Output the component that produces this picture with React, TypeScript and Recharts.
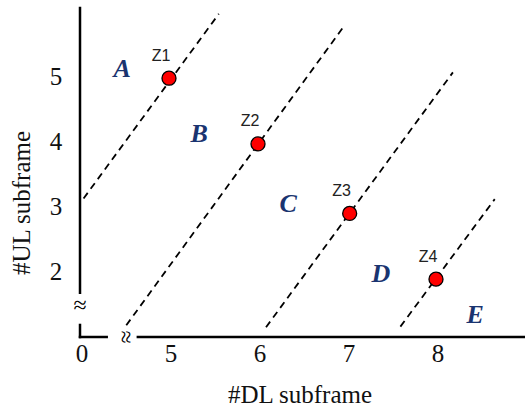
import { ReferenceDot, ReferenceLine, Scatter, ScatterChart, XAxis, YAxis } from 'recharts';

// x = 4 stands in for the broken "0" origin of the DL axis
const xTicks = [4, 5, 6, 7, 8];
const xTickText: Record<number, string> = { 4: '0', 5: '5', 6: '6', 7: '7', 8: '8' };
const yTicks = [2, 3, 4, 5];

const zPoints = [
  { x: 5, y: 4.98, name: 'Z1' },
  { x: 6, y: 3.97, name: 'Z2' },
  { x: 7.03, y: 2.9, name: 'Z3' },
  { x: 8, y: 1.89, name: 'Z4' },
];

const regions = [
  { x: 4.475, y: 5.13, name: 'A' },
  { x: 5.34, y: 4.13, name: 'B' },
  { x: 6.34, y: 3.05, name: 'C' },
  { x: 7.38, y: 1.97, name: 'D' },
  { x: 8.44, y: 1.34, name: 'E' },
];

// dashed boundaries, [start, end]
const boundaries = [
  [{ x: 4.04, y: 3.13 }, { x: 5.56, y: 5.97 }],
  [{ x: 4.52, y: 1.18 }, { x: 6.95, y: 5.75 }],
  [{ x: 6.09, y: 1.15 }, { x: 8.19, y: 5.07 }],
  [{ x: 7.6, y: 1.16 }, { x: 8.66, y: 3.12 }],
];

// axis pieces around the breaks
const axisPieces = [
  [{ x: 4, y: 6.06 }, { x: 4, y: 1.68 }],
  [{ x: 4, y: 1.185 }, { x: 4, y: 1 }],
  [{ x: 4, y: 1 }, { x: 4.3, y: 1 }],
  [{ x: 4.65, y: 1 }, { x: 9, y: 1 }],
];

const serif = '"Liberation Serif", "Times New Roman", serif';
const sans = '"Liberation Sans", Arial, sans-serif';

const XTick = ({ x, payload }: any) => (
  <text x={x + 2} y={362} textAnchor="middle" fontFamily={serif} fontSize={25} fill="#111">
    {xTickText[payload.value]}
  </text>
);

const YTick = ({ y, payload }: any) => (
  <text x={56} y={y + 8} textAnchor="middle" fontFamily={serif} fontSize={25} fill="#111">
    {payload.value}
  </text>
);

const PointShape = (props: any) => {
  const { cx, cy, payload } = props;
  return (
    <g>
      <circle cx={cx} cy={cy} r={7} fill="#ff0000" stroke="#000" strokeWidth={1.3} />
      <text x={cx - 8} y={cy - 23} textAnchor="middle" dominantBaseline="central" fontFamily={sans} fontSize={16} fill="#222">
        {payload.name}
      </text>
    </g>
  );
};

const RegionShape = (props: any) => {
  const { cx, cy, payload } = props;
  return (
    <text x={cx} y={cy} textAnchor="middle" dominantBaseline="central" fontFamily={serif} fontSize={26} fontWeight="bold" fontStyle="italic" fill="#1a3470">
      {payload.name}
    </text>
  );
};

export default function App() {
  return (
    <div style={{ position: 'absolute', left: 0, top: 0, width: 525, height: 410, background: '#fff' }}>
      <ScatterChart width={525} height={410} margin={{ top: 8, right: 0, bottom: 0, left: 0 }}>
        <XAxis
          type="number"
          dataKey="x"
          domain={[4, 9]}
          ticks={xTicks}
          height={73}
          axisLine={false}
          tickLine={false}
          tick={<XTick />}
          allowDataOverflow
        />
        <YAxis
          type="number"
          dataKey="y"
          domain={[1, 6.06]}
          ticks={yTicks}
          width={80}
          axisLine={false}
          tickLine={false}
          tick={<YTick />}
          allowDataOverflow
        />
        {axisPieces.map((seg, i) => (
          <ReferenceLine key={'ax' + i} segment={seg} stroke="#000" strokeWidth={2.5} strokeLinecap="square" ifOverflow="visible" />
        ))}
        {boundaries.map((seg, i) => (
          <ReferenceLine key={'b' + i} segment={seg} stroke="#000" strokeWidth={1.8} strokeDasharray="7 5" ifOverflow="visible" />
        ))}
        <ReferenceDot
          x={4}
          y={1.49}
          r={0}
          ifOverflow="visible"
          shape={(p: any) => (
            <text x={p.cx} y={p.cy} textAnchor="middle" dominantBaseline="central" fontFamily={serif} fontSize={24} fill="#000">
              ≈
            </text>
          )}
        />
        <ReferenceDot
          x={4.52}
          y={1}
          r={0}
          ifOverflow="visible"
          shape={(p: any) => (
            <text
              x={p.cx}
              y={p.cy}
              textAnchor="middle"
              dominantBaseline="central"
              fontFamily={serif}
              fontSize={24}
              fill="#000"
              transform={`rotate(90 ${p.cx} ${p.cy})`}
            >
              ≈
            </text>
          )}
        />
        <Scatter data={regions} shape={<RegionShape />} isAnimationActive={false} />
        <Scatter data={zPoints} shape={<PointShape />} isAnimationActive={false} />
      </ScatterChart>
      <svg width={525} height={410} style={{ position: 'absolute', left: 0, top: 0, pointerEvents: 'none' }}>
        <text x={300} y={403} textAnchor="middle" fontFamily={serif} fontSize={25} fill="#111">
          #DL subframe
        </text>
        <text x={30} y={203} textAnchor="middle" fontFamily={serif} fontSize={25} fill="#111" transform="rotate(-90 30 203)">
          #UL subframe
        </text>
      </svg>
    </div>
  );
}
